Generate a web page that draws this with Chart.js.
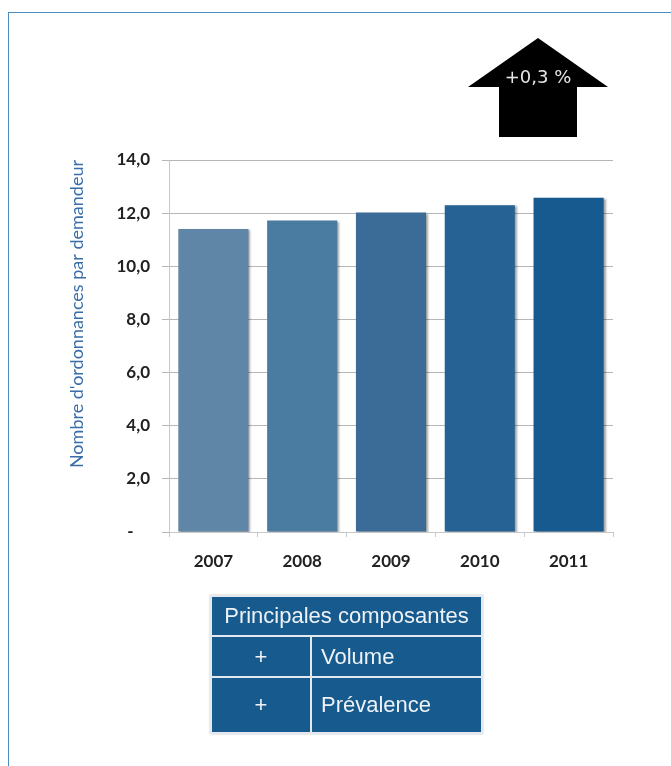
<!DOCTYPE html>
<html lang="fr">
<head>
<meta charset="utf-8">
<title>Nombre d'ordonnances par demandeur</title>
<script src="https://cdn.jsdelivr.net/npm/chart.js@4"></script>
<style>
  html, body { margin: 0; padding: 0; background: #fff; }
  #cadre {
    position: relative;
    width: 671px;
    height: 766px;
    overflow: hidden;
  }
  #cadre::before {
    content: "";
    position: absolute;
    left: 8px; top: 12px; right: -2px; bottom: -2px;
    border-top: 1px solid #4a8cc4;
    border-left: 1px solid #4a8cc4;
  }
  canvas { position: absolute; left: 0; top: 0; }
  #composantes {
    position: absolute;
    left: 210px;
    top: 595px;
    width: 273px;
    border-collapse: collapse;
    font-family: "Liberation Sans", Arial, sans-serif;
    color: #eef2f7;
    box-shadow: 0 0 2px rgba(0,0,0,0.25);
  }
  #composantes td {
    background: #175a8e;
    border: 2px solid #e4e9f0;
    padding: 0;
  }
  #composantes .titre td { height: 38px; font-size: 22px; text-align: center; }
  #composantes .ligne td { height: 39px; font-size: 22px; }
  #composantes .ligne.derniere td { height: 54px; }
  #composantes .signe { width: 98px; text-align: center; }
  #composantes .nom { padding-left: 9px; }
</style>
</head>
<body>
<div id="cadre">
  <canvas id="graphique" width="671" height="766"></canvas>
  <table id="composantes">
    <tr class="titre"><td colspan="2">Principales composantes</td></tr>
    <tr class="ligne"><td class="signe">+</td><td class="nom">Volume</td></tr>
    <tr class="ligne derniere"><td class="signe">+</td><td class="nom">Prévalence</td></tr>
  </table>
</div>
<script>
const annees = ['2007', '2008', '2009', '2010', '2011'];
const ordonnances = [11.4, 11.72, 12.02, 12.3, 12.58];
const couleurs = ['#5f86a6', '#4a7ba0', '#3a6c97', '#276294', '#175a8f'];
const graduations = [0, 2, 4, 6, 8, 10, 12, 14];
const evolution = '+0,3 %';

// ombre légère à droite des barres
const ombreBarres = {
    id: 'ombreBarres',
    beforeDatasetsDraw(chart) {
        const ctx = chart.ctx;
        ctx.save();
        ctx.shadowColor = 'rgba(0,0,0,0.35)';
        ctx.shadowOffsetX = 2;
        ctx.shadowOffsetY = 1;
        ctx.shadowBlur = 2;
    },
    afterDatasetsDraw(chart) {
        chart.ctx.restore();
    }
};

// flèche noire de tendance en haut à droite
const fleche = {
    id: 'fleche',
    afterDraw(chart) {
        const ctx = chart.ctx;
        ctx.save();
        ctx.fillStyle = '#000';
        ctx.beginPath();
        ctx.moveTo(538, 38);
        ctx.lineTo(608, 87);
        ctx.lineTo(577, 87);
        ctx.lineTo(577, 137);
        ctx.lineTo(499, 137);
        ctx.lineTo(499, 87);
        ctx.lineTo(468, 87);
        ctx.closePath();
        ctx.fill();
        ctx.fillStyle = '#e6e6e6';
        ctx.font = '18px "DejaVu Sans", sans-serif';
        ctx.textAlign = 'center';
        ctx.textBaseline = 'middle';
        ctx.fillText(evolution, 538, 78);
        ctx.restore();
    }
};

window.onload = function () {
    const ctx = document.getElementById('graphique').getContext('2d');
    new Chart(ctx, {
        type: 'bar',
        data: {
            labels: annees,
            datasets: [{
                label: "Nombre d'ordonnances par demandeur",
                data: ordonnances,
                backgroundColor: couleurs,
                barPercentage: 0.79,
                categoryPercentage: 1
            }]
        },
        options: {
            responsive: false,
            animation: false,
            layout: { padding: { left: 66, top: 160, right: 58, bottom: 194 } },
            plugins: {
                legend: { display: false },
                tooltip: { enabled: false }
            },
            scales: {
                x: {
                    grid: {
                        display: true,
                        drawOnChartArea: false,
                        color: '#c8c8c8',
                        tickLength: 5
                    },
                    border: { color: '#c8c8c8' },
                    ticks: {
                        color: '#222',
                        padding: 14,
                        font: { family: 'Lato, "Open Sans", sans-serif', size: 17, weight: 'bold' }
                    },
                    afterFit(scale) { scale.height = 40; }
                },
                y: {
                    min: 0,
                    max: 14,
                    z: 1,
                    afterBuildTicks(scale) {
                        scale.ticks = graduations.map(v => ({ value: v }));
                    },
                    grid: { color: 'rgba(110,110,110,0.5)', tickLength: 7 },
                    border: { color: '#c8c8c8' },
                    ticks: {
                        color: '#222',
                        padding: 12,
                        font: { family: 'Lato, "Open Sans", sans-serif', size: 17, weight: 'bold' },
                        // le zéro s'affiche comme un tiret décalé, à la manière d'un format comptable
                        callback: v => v === 0 ? '-    ' : v.toFixed(1).replace('.', ',')
                    },
                    title: {
                        display: true,
                        text: "Nombre d'ordonnances par demandeur",
                        align: 'end',
                        color: '#3a6ea8',
                        padding: 0,
                        font: { family: 'Lato, "Open Sans", sans-serif', size: 18 }
                    },
                    afterFit(scale) { scale.width = 103; }
                }
            }
        },
        plugins: [ombreBarres, fleche]
    });
};
</script>
</body>
</html>
